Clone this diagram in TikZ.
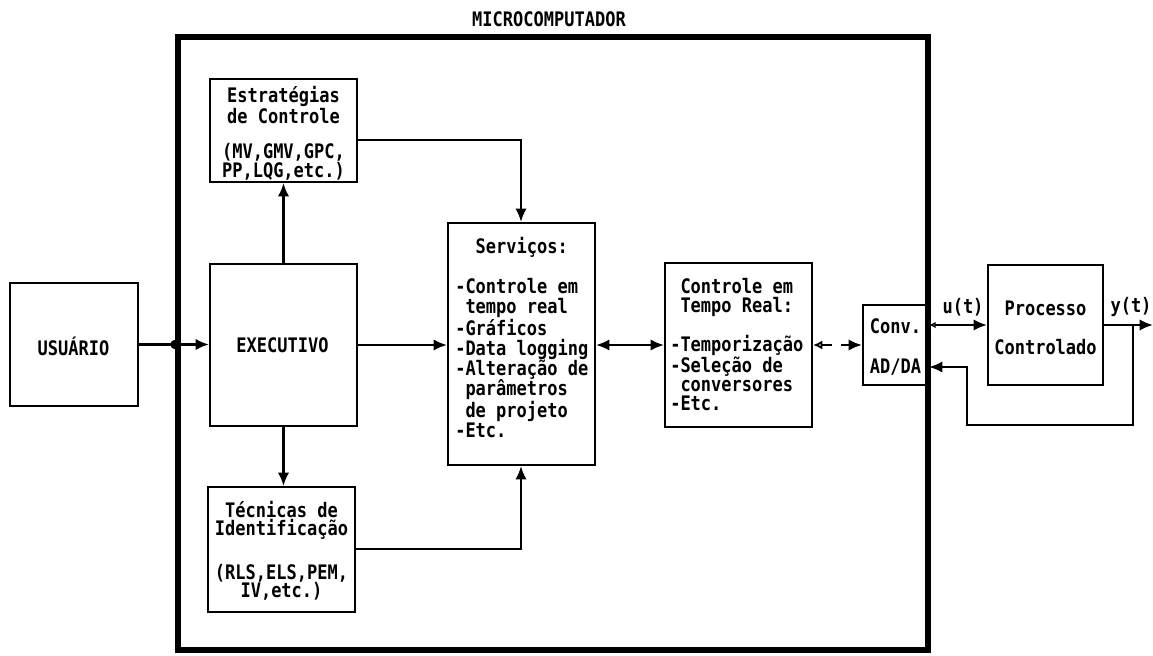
\documentclass[tikz,border=0pt]{standalone}
\usepackage{fontspec}
\newfontfamily\dm[FakeStretch=0.85]{DejaVu Sans Mono}
\usetikzlibrary{arrows.meta,fit,calc}
\begin{document}
\begin{tikzpicture}[x=0.75pt,y=-0.75pt,
  box/.style={draw, line width=1.6pt, inner sep=0pt},
  frame/.style={draw, line width=4.5pt, inner sep=0pt},
  txt/.style={inner sep=0pt, font=\dm\bfseries\fontsize{15}{#1}\selectfont},
  txt/.default=15,
  conn/.style={line width=1.6pt},
  tip/.tip={Latex[length=10pt,width=8.5pt]},
  otip/.tip={Latex[open,length=7pt,width=7pt]},
  arr/.style={conn, -tip},
]
\fill[white] (0,0) rectangle (1153,656);
\useasboundingbox (0,0) rectangle (1153,656);

% frame
\node[frame, fit={(178,37) (928,650)}] (micro) {};
\node[txt] (microlbl) at (549,19) {MICROCOMPUTADOR};

% boxes
\node[box, fit={(10,283) (138,406)}] (usuario) {};
\node[box, fit={(210,264) (357,426)}] (exec) {};
\node[box, fit={(210,79) (357,182)}] (estr) {};
\node[box, fit={(208,487) (355,612)}] (tec) {};
\node[box, fit={(448,223) (595,465)}] (serv) {};
\node[box, fit={(665,263) (812,427)}] (ctr) {};
\node[box, fit={(863,305) (928,385)}] (conv) {};
\node[box, fit={(988,265) (1103,385)}] (proc) {};

% texts
\node[txt] (usuariotxt) at (73.5,346) {USUÁRIO};
\node[txt] (exectxt) at (282.5,345) {EXECUTIVO};
\node[txt=12.5, align=center] (estrtxt) at (283.5,133.5)
  {Estratégias\\de Controle\\[13.5pt](MV,GMV,GPC,\\PP,LQG,etc.)};
\node[txt=13.5, align=center] (tectxt) at (281.5,550.5)
  {Técnicas de\\Identificação\\[18pt](RLS,ELS,PEM,\\IV,etc.)};
\node[txt=15, align=left, anchor=west] (servtxt) at (455,337.5)
  {\phantom{xx}Serviços:\\\mbox{}\\-Controle em\\\phantom{x}tempo real\\-Gráficos\\-Data logging\\-Alteração de\\\phantom{x}parâmetros\\\phantom{x}de projeto\\-Etc.};
\node[txt=14.4, align=left, anchor=west] (ctrtxt) at (670,344.5)
  {\phantom{x}Controle em\\\phantom{x}Tempo Real:\\\mbox{}\\-Temporização\\-Seleção de\\\phantom{x}conversores\\-Etc.};
\node[txt=15, align=center] (convtxt) at (895.5,347) {Conv.\\[15pt]AD/DA};
\node[txt=14.25, align=center] (proctxt) at (1045.5,327.5) {Processo\\[15pt]Controlado};
\node[txt] (ulbl) at (963,307) {u(t)};
\node[txt] (ylbl) at (1131,307) {y(t)};

% helper coordinates
\coordinate (c1) at (521,140);
\coordinate (c2) at (521,549);
\coordinate (row) at (0,345);
\coordinate (u) at (0,325);
\coordinate (yout) at (1153,325);
\coordinate (fb1) at (1133,325);
\coordinate (fb2) at (967,425);
\coordinate (fbin) at (0,367);

% connectors
\draw[arr] (usuario.east) -- (usuario.east -| exec.west);
\fill (usuario.east -| micro.west) circle (3.5pt);
\draw[arr] (exec.east) -- (exec.east -| serv.west);
\draw[arr] (exec.north) -- (estr.south);
\draw[arr] (exec.south) -- (exec.south |- tec.north);
\draw[arr] (c1 -| estr.east) -- (c1) -- (c1 |- serv.north);
\draw[arr] (c2 -| tec.east) -- (c2) -- (c2 |- serv.south);
\draw[conn, tip-tip] (row -| serv.east) -- (row -| ctr.west);
\draw[conn, dash pattern=on 8pt off 7pt, otip-tip] (row -| ctr.east) -- (row -| conv.west);
\draw[conn, {Latex[open,length=5pt,width=5pt]}-tip] (u -| conv.east) -- (u -| proc.west);
\draw[arr] (u -| proc.east) -- (yout);
\draw[arr] (fb1) -- (fb1 |- fb2) -- (fb2) -- (fb2 |- fbin) -- (fbin -| conv.east);
\end{tikzpicture}
\end{document}
